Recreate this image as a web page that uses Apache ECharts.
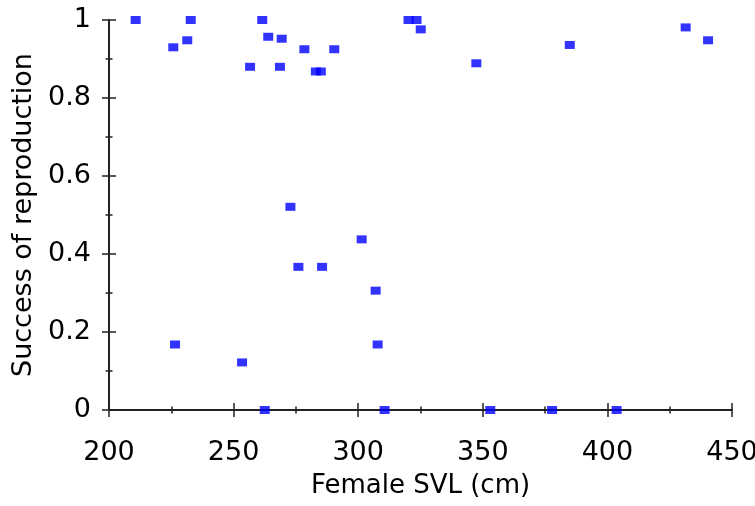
<!DOCTYPE html>
<html>
<head>
<meta charset="utf-8">
<script src="https://cdn.jsdelivr.net/npm/echarts@6/dist/echarts.min.js"></script>
<style>
  html, body { margin: 0; padding: 0; background: #fff; }
  #chart { width: 755px; height: 506px; }
</style>
</head>
<body>
<div id="chart"></div>
<script>
// female snout-vent length (cm) and reproduction success
const svl = [
  210.7, 232.8, 225.8, 231.4, 261.5, 263.9, 269.3, 278.4, 256.6, 268.6,
  283.0, 285.0, 290.4, 320.2, 323.4, 325.1, 347.4, 384.9, 431.4, 440.4,
  272.8, 301.4, 276.0, 285.5, 307.0, 307.8, 226.5, 253.4, 262.5, 310.6,
  353.0, 377.8, 403.7
]
const success = [
  1.0, 1.0, 0.93, 0.948, 1.0, 0.957, 0.952, 0.925, 0.88, 0.88,
  0.868, 0.868, 0.925, 1.0, 1.0, 0.976, 0.889, 0.936, 0.981, 0.948,
  0.521, 0.4375, 0.367, 0.367, 0.306, 0.168, 0.168, 0.122, 0.0, 0.0,
  0.0, 0.0, 0.0
]

const points = svl.map((x, i) => [x, success[i]])

const chart = echarts.init(document.getElementById('chart'))
const font = 'DejaVu Sans, sans-serif'
const axisColor = '#222'

// ticks cross the axis line: one axis draws them outside, a twin draws them inside
function xAxisDef(inside) {
  return {
    type: 'value',
    min: 200,
    max: 450,
    interval: 50,
    position: 'bottom',
    name: inside ? '' : 'Female SVL (cm)',
    nameLocation: 'middle',
    nameGap: 63,
    nameTextStyle: { color: '#000', fontSize: 26, fontFamily: font },
    axisLine: { show: !inside, onZero: false, lineStyle: { color: axisColor, width: 2 } },
    axisTick: { show: true, inside: inside, length: 7, lineStyle: { color: axisColor, width: 1.5 } },
    minorTick: { show: true, splitNumber: 2, length: 3.5, lineStyle: { color: axisColor, width: 1.5 } },
    axisLabel: { show: !inside, color: '#000', fontSize: 27, fontFamily: font, margin: 29 },
    splitLine: { show: false },
  }
}

function yAxisDef(inside) {
  return {
    type: 'value',
    min: 0,
    max: 1,
    interval: 0.2,
    position: 'left',
    name: inside ? '' : 'Success of reproduction',
    nameLocation: 'middle',
    nameGap: 65,
    nameTextStyle: { color: '#000', fontSize: 27, fontFamily: font },
    axisLine: { show: !inside, onZero: false, lineStyle: { color: axisColor, width: 2 } },
    axisTick: { show: true, inside: inside, length: 7, lineStyle: { color: axisColor, width: 1.5 } },
    minorTick: { show: true, splitNumber: 2, length: 3.5, lineStyle: { color: axisColor, width: 1.5 } },
    axisLabel: { show: !inside, color: '#000', fontSize: 27, fontFamily: font, margin: 18 },
    splitLine: { show: false },
  }
}

chart.setOption({
  animation: false,
  grid: {
    left: 109,
    right: 23,
    top: 20,
    bottom: 96,
    outerBoundsMode: 'none',
  },
  xAxis: [xAxisDef(false), xAxisDef(true)],
  yAxis: [yAxisDef(false), yAxisDef(true)],
  series: [
    {
      type: 'scatter',
      data: points,
      symbol: 'rect',
      symbolSize: [10, 8],
      itemStyle: { color: '#0000ff' },
    },
  ],
})
</script>
</body>
</html>
